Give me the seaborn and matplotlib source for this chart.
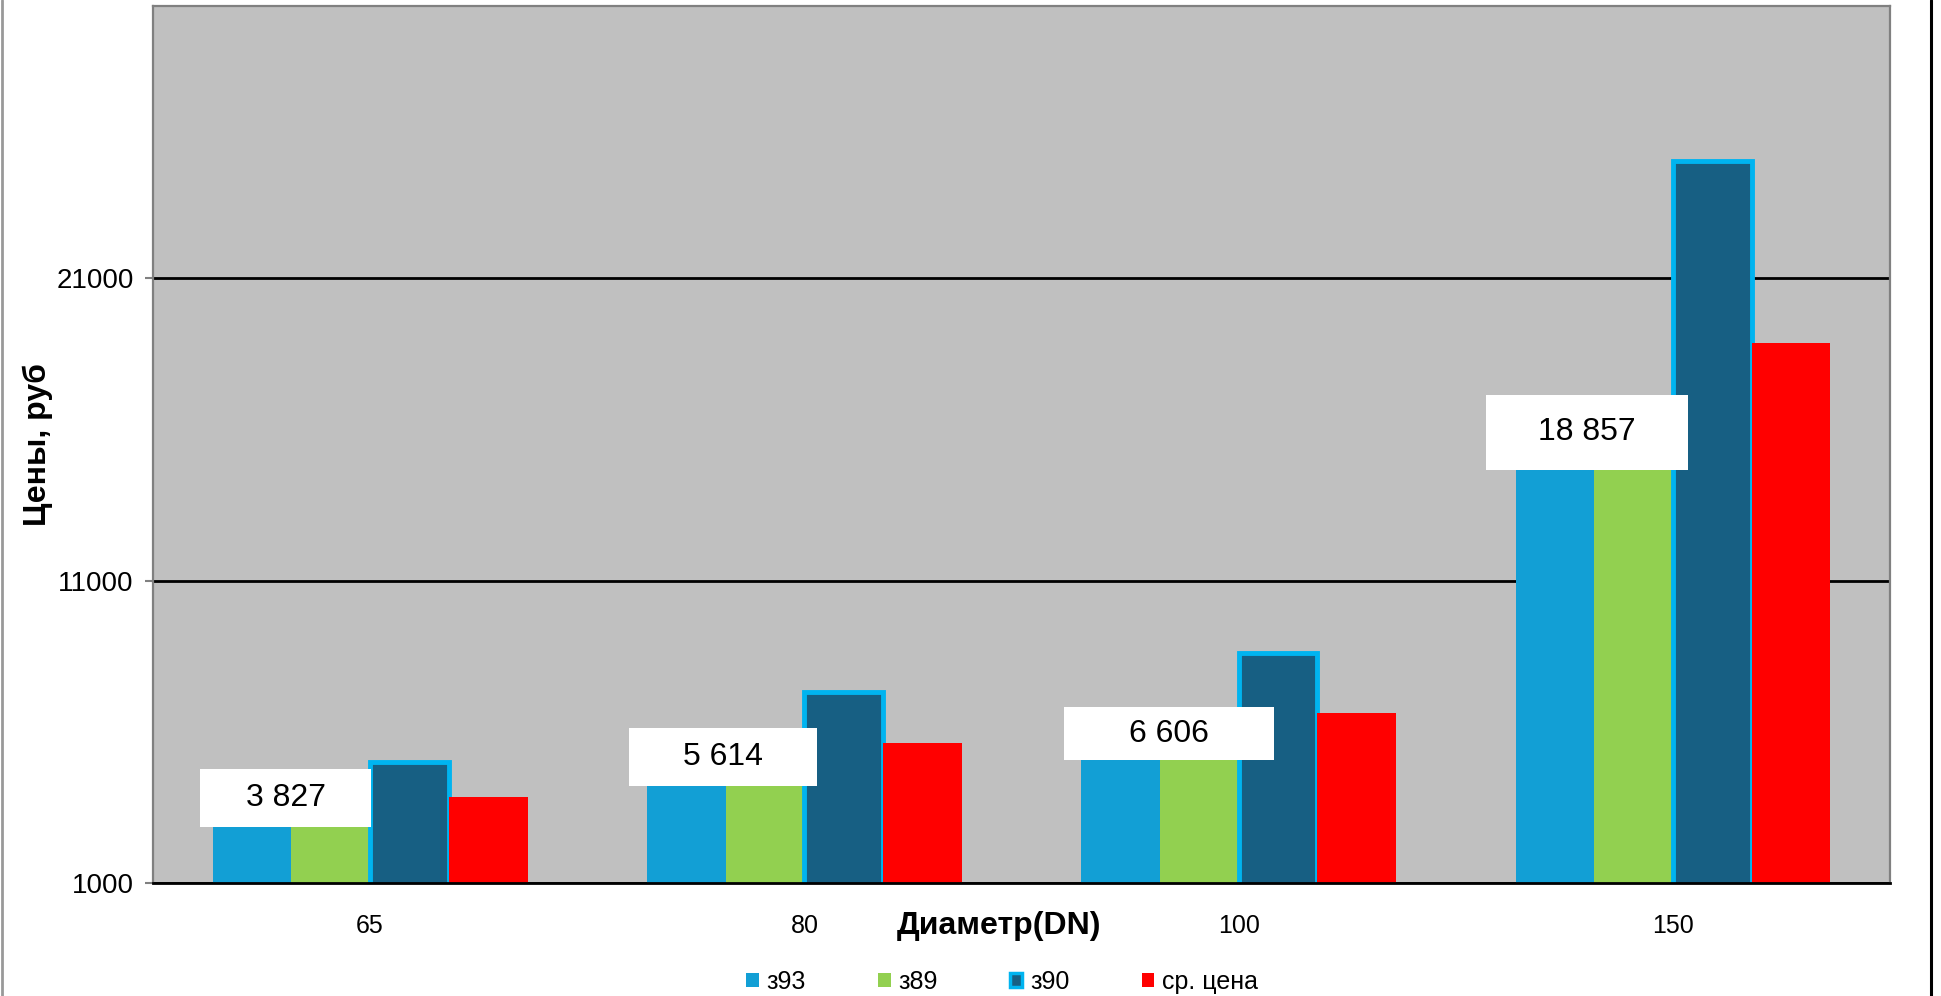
import pandas as pd
import numpy as np
import seaborn as sns
import matplotlib.pyplot as plt
from matplotlib.patches import Patch, Rectangle
from matplotlib.lines import Line2D

# -------------------------------
# 1. Data
# -------------------------------
diameters = ["65", "80", "100", "150"]
series = ["з93", "з89", "з90", "ср. цена"]
z93 = [3815, 5170, 5935, 15900]
z89 = [3840, 5190, 5950, 15950]
z90 = [5000, 7330, 8620, 24870]
avg_price = [3827, 5614, 6606, 18857]
label_text = ["3 827", "5 614", "6 606", "18 857"]

colors = ["#129FD5", "#92D050", "#175F83", "#FF0000"]

df = pd.DataFrame({
    "DN": diameters * len(series),
    "series": np.repeat(series, len(diameters)),
    "price": z93 + z89 + z90 + avg_price,
})

# -------------------------------
# 2. Plot
# -------------------------------
sns.set_theme(style="white")
plt.rcParams["font.family"] = ["Liberation Sans", "DejaVu Sans"]
plt.rcParams["text.color"] = "black"
plt.rcParams["axes.labelcolor"] = "black"

fig = plt.figure(figsize=(19.41, 9.96), dpi=100)
ax = fig.add_axes([0.0788, 0.1135, 0.895, 0.8805])
ax.set_facecolor("#C0C0C0")

sns.barplot(data=df, x="DN", y="price", hue="series", palette=colors,
            width=0.725, saturation=1, linewidth=0, legend=False, ax=ax)

# з90 bars get the light blue outline
for bar in ax.containers[2]:
    bar.set_edgecolor("#00B4F0")
    bar.set_linewidth(3.5)

ax.set_ylim(1000, 30000)
ax.set_yticks([1000, 11000, 21000])
ax.set_axisbelow(True)
ax.yaxis.grid(True, color="black", lw=2)
ax.xaxis.grid(False)

for side in ["left", "top", "right"]:
    ax.spines[side].set_color("#808080")
    ax.spines[side].set_linewidth(1.6)
ax.spines["bottom"].set_color("black")
ax.spines["bottom"].set_linewidth(2)

ax.tick_params(axis="y", labelsize=20, length=6, width=1.5, color="#808080",
               labelcolor="black", direction="out", pad=8, left=True)
ax.tick_params(axis="x", labelsize=18, length=0, pad=22, labelcolor="black")

ax.set_ylabel("Цены, руб", fontsize=23, fontweight="bold")
ax.yaxis.set_label_coords(-0.066, 0.5)
ax.yaxis.label.set_va("center")
ax.set_xlabel("Диаметр(DN)", fontsize=23, fontweight="bold")
ax.xaxis.set_label_coords(0.487, -0.049)
ax.xaxis.label.set_va("center")

# value labels (white boxes)
box_dx = [-0.194, -0.187, -0.16, -0.198]
box_w = [0.394, 0.433, 0.484, 0.465]
box_h = [1920, 1920, 1755, 2480]
for i, txt in enumerate(label_text):
    cx = i + box_dx[i]
    cy = z93[i]
    ax.add_patch(Rectangle((cx - box_w[i] / 2, cy - box_h[i] / 2), box_w[i], box_h[i],
                           facecolor="white", edgecolor="none", zorder=5))
    ax.text(cx, cy, txt, ha="center", va="center", fontsize=23, color="black", zorder=6)

# legend
handles = [
    Patch(facecolor=colors[0], edgecolor="none"),
    Patch(facecolor=colors[1], edgecolor="none"),
    Patch(facecolor=colors[2], edgecolor="#00B4F0", linewidth=2.5),
    Patch(facecolor=colors[3], edgecolor="none"),
]
fig.legend(handles, series, loc="center", bbox_to_anchor=(1002 / 1941, 1 - 982 / 996),
           ncol=4, frameon=False, fontsize=18, handlelength=0.5, handleheight=0.5,
           handletextpad=0.3, columnspacing=2.9)

# outer frame lines
fig.add_artist(Line2D([0.0008, 0.0008], [0, 1], color="#999999", lw=2, transform=fig.transFigure))
fig.add_artist(Line2D([0.9948, 0.9948], [0, 1], color="black", lw=2.2, transform=fig.transFigure))

fig.savefig("out.png", dpi=100, facecolor="white")
